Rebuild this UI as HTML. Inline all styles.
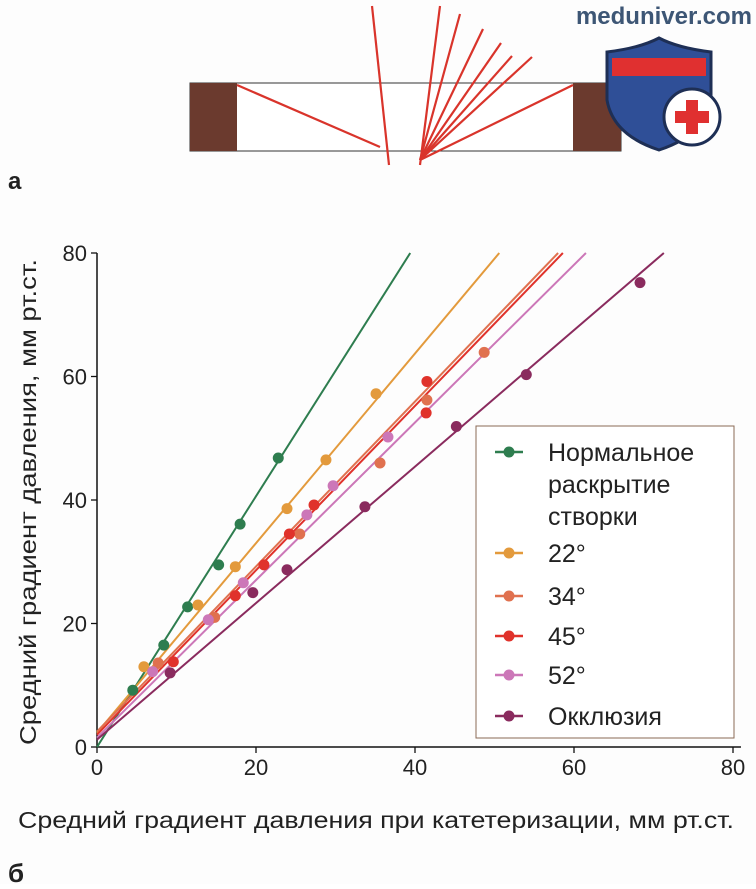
<!DOCTYPE html>
<html><head><meta charset="utf-8">
<style>
html,body{margin:0;padding:0;background:#fff;}
body{width:756px;height:884px;overflow:hidden;font-family:"Liberation Sans","DejaVu Sans",sans-serif;}
svg text{font-family:"Liberation Sans","DejaVu Sans",sans-serif;}
</style></head>
<body>
<svg id="fig" width="756" height="884" viewBox="0 0 756 884" xmlns="http://www.w3.org/2000/svg">
  <rect width="756" height="884" fill="#fdfdfd"/>
  <g>
    <rect x="190" y="83" width="431" height="68" fill="#fff" stroke="#333" stroke-width="1"/>
    <rect x="190" y="83" width="47" height="68" fill="#6b3a2e"/>
    <rect x="573" y="83" width="48" height="68" fill="#6b3a2e"/>
    <g stroke="#d9342b" stroke-width="2.2" fill="none">
      <line x1="237" y1="85" x2="380" y2="147"/>
      <line x1="372" y1="6" x2="389" y2="165"/>
      <line x1="420" y1="165" x2="440" y2="6"/>
      <line x1="420" y1="160" x2="460" y2="14"/>
      <line x1="420" y1="160" x2="483" y2="29"/>
      <line x1="420" y1="160" x2="501" y2="43"/>
      <line x1="420" y1="160" x2="512" y2="56"/>
      <line x1="420" y1="160" x2="532" y2="57"/>
      <line x1="420" y1="160" x2="573" y2="85"/>
    </g>
  </g>
  <text x="8" y="189" font-size="24" font-weight="bold" fill="#222">а</text>
  <text x="8" y="882" font-size="26" font-weight="bold" fill="#222">б</text>
  <g>
    <text x="752" y="24" font-size="24" font-weight="bold" fill="#3d5675" text-anchor="end">meduniver.com</text>
    <path d="M607,52 Q640,48 659,38 Q678,48 711,52 L711,100 Q705,135 659,150 Q613,135 607,100 Z" fill="#2f4f97" stroke="#1e2f55" stroke-width="3"/>
    <rect x="612" y="58" width="94" height="18" fill="#e03030"/>
    <circle cx="692" cy="117" r="28" fill="#fff" stroke="#1e2f55" stroke-width="3"/>
    <path d="M686,100 h12 v11 h11 v12 h-11 v11 h-12 v-11 h-11 v-12 h11 z" fill="#e03030"/>
  </g>
  <g id="chart"></g>
</svg>
<script>
const seriesNames = ["Нормальное раскрытие створки","22°","34°","45°","52°","Окклюзия"];
const seriesColors = ["#2e7d4f","#e39a3c","#e0714f","#e0322b","#cc77b8","#8a2b5e"];
const xTicks = [0,20,40,60,80];
const yTicks = [0,20,40,60,80];
const normalX = [4.5,8.4,11.4,15.3,18,22.8];
const normalY = [9.2,16.5,22.7,29.5,36.1,46.8];
const deg22X = [5.9,12.7,17.4,23.9,28.8,35.1];
const deg22Y = [13,23,29.2,38.6,46.5,57.2];
const deg34X = [7.7,14.8,25.5,35.6,41.5,48.7];
const deg34Y = [13.6,21,34.5,46,56.2,63.9];
const deg45X = [9.6,17.4,21,24.2,27.3,41.4,41.5];
const deg45Y = [13.8,24.5,29.5,34.5,39.2,54.1,59.2];
const deg52X = [7,14,18.4,26.4,29.7,36.6];
const deg52Y = [12.2,20.6,26.6,37.6,42.3,50.2];
const occlX = [9.2,19.6,23.9,33.7,45.2,54,68.3];
const occlY = [12,25,28.7,38.9,51.9,60.3,75.2];
const lineStart = [0,2.3,2.5,2,1.5,1.2];
const lineEndX = [39.4,50.6,58,58.6,61.5,71.3];

const X0=97, XS=(733-97)/80, Y0=747, YS=(747-253)/80;
const sx=v=>X0+v*XS, sy=v=>Y0-v*YS;
const NS="http://www.w3.org/2000/svg";
const g=document.getElementById('chart');
function mk(tag,attrs,parent){const e=document.createElementNS(NS,tag);for(const k in attrs)e.setAttribute(k,attrs[k]);(parent||g).appendChild(e);return e;}

let ax=mk('line',{x1:sx(0),y1:sy(0),x2:sx(81),y2:sy(0),stroke:'#111','stroke-width':1.5});


let ay=mk('line',{x1:sx(0),y1:sy(0),x2:sx(0),y2:sy(80),stroke:'#111','stroke-width':1.5});


xTicks.forEach(t=>{
  const tk=mk('line',{x1:sx(t),y1:sy(0),x2:sx(t),y2:sy(0)+6,stroke:'#111','stroke-width':1.3});
  
  
  const tl=mk('text',{x:sx(t),y:sy(0)+28,'font-size':22,'text-anchor':'middle',fill:'#222'});
  tl.textContent=t;
  
  
});
yTicks.forEach(t=>{
  const tk=mk('line',{x1:sx(0)-6,y1:sy(t),x2:sx(0),y2:sy(t),stroke:'#111','stroke-width':1.3});
  
  
  const tl=mk('text',{x:sx(0)-10,y:sy(t)+8,'font-size':22,'text-anchor':'end',fill:'#222'});
  tl.textContent=t;
  
  
});
let xt=mk('text',{x:376,y:828,'font-size':23,'text-anchor':'middle',fill:'#222',textLength:716,lengthAdjust:'spacingAndGlyphs'});
xt.textContent='Средний градиент давления при катетеризации, мм рт.ст.';


let yt=mk('text',{x:0,y:0,'font-size':23,'text-anchor':'middle',fill:'#222',transform:'translate(36,502) rotate(-90)',textLength:486,lengthAdjust:'spacingAndGlyphs'});
yt.textContent='Средний градиент давления, мм рт.ст.';



const xs=[normalX,deg22X,deg34X,deg45X,deg52X,occlX];
const ys=[normalY,deg22Y,deg34Y,deg45Y,deg52Y,occlY];
xs.forEach((X,i)=>{
  const ln=mk('line',{x1:sx(0),y1:sy(lineStart[i]),x2:sx(lineEndX[i]),y2:sy(80),stroke:seriesColors[i],'stroke-width':2});
  
  
});
xs.forEach((X,i)=>{
  X.forEach((xv,j)=>{
    const c=mk('circle',{cx:sx(xv),cy:sy(ys[i][j]),r:5.5,fill:seriesColors[i]});
    
    
  });
});

const lg=mk('g',{});


mk('rect',{x:476,y:426,width:258,height:312,fill:'#fff',stroke:'#8a6a55','stroke-width':1},lg);
const legY=[452,553,596,636,675,716];
seriesNames.forEach((n,i)=>{
  const e=mk('g',{},lg);
  
  
  mk('line',{x1:495,y1:legY[i],x2:523,y2:legY[i],stroke:seriesColors[i],'stroke-width':2.5},e);
  mk('circle',{cx:509,cy:legY[i],r:5.5,fill:seriesColors[i]},e);
  const lines = i===0?['Нормальное','раскрытие','створки']:[n];
  lines.forEach((s,k)=>{
    const t=mk('text',{x:548,y:legY[i]+9+k*32,'font-size':25,fill:'#222'},e);
    t.textContent=s;
  });
});
</script>
</body></html>
